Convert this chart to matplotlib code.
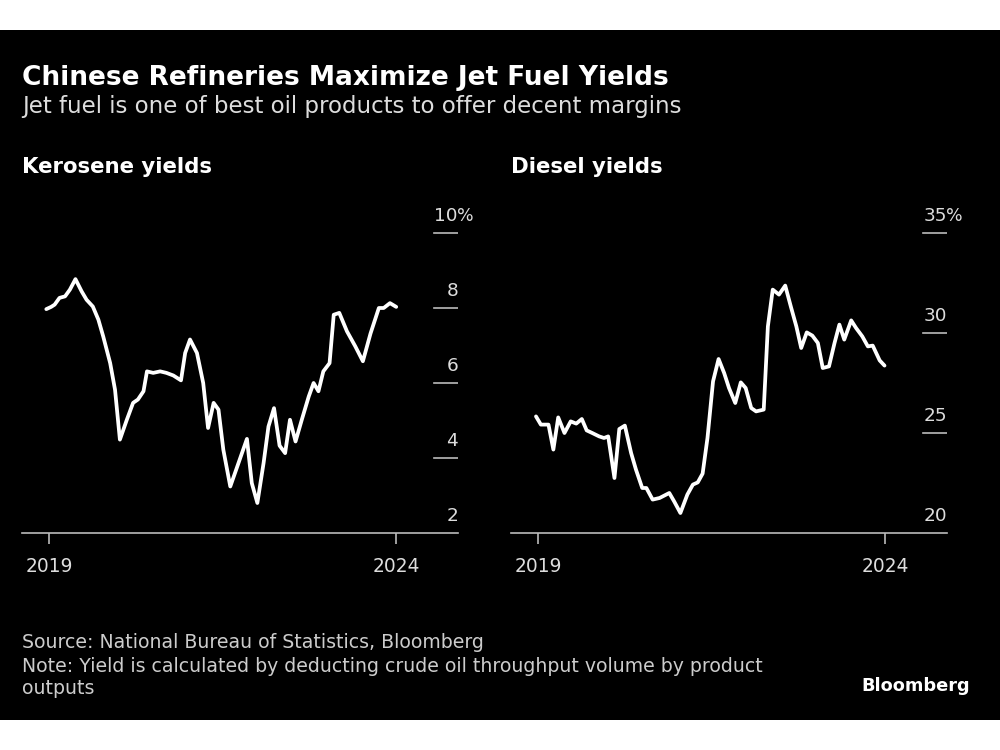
import matplotlib.pyplot as plt
import matplotlib.transforms as mtransforms
from matplotlib.patches import Rectangle

plt.rcParams['font.family'] = ['DejaVu Sans']

# dates as decimal years and yields (%)
ker_x = [2018.96, 2019.03, 2019.08, 2019.15, 2019.23, 2019.30, 2019.38, 2019.47, 2019.54, 2019.63,
         2019.71, 2019.78, 2019.88, 2019.95, 2020.02, 2020.12, 2020.21, 2020.28, 2020.36, 2020.41,
         2020.50, 2020.60, 2020.69, 2020.79, 2020.90, 2020.96, 2021.03, 2021.13, 2021.22, 2021.29,
         2021.37, 2021.44, 2021.51, 2021.61, 2021.85, 2021.92, 2022.00, 2022.09, 2022.16, 2022.24,
         2022.32, 2022.40, 2022.47, 2022.55, 2022.64, 2022.74, 2022.81, 2022.88, 2022.95, 2023.04,
         2023.10, 2023.18, 2023.29, 2023.41, 2023.52, 2023.63, 2023.75, 2023.82, 2023.91, 2024.00]
kerosene = [7.97, 8.03, 8.09, 8.27, 8.31, 8.49, 8.77, 8.44, 8.22, 8.04,
            7.69, 7.24, 6.53, 5.82, 4.49, 5.02, 5.47, 5.56, 5.78, 6.31,
            6.27, 6.31, 6.27, 6.2, 6.07, 6.8, 7.16, 6.8, 6.0, 4.8,
            5.47, 5.29, 4.22, 3.24, 4.51, 3.33, 2.8, 3.87, 4.84, 5.33,
            4.33, 4.13, 5.02, 4.44, 5.02, 5.64, 6.0, 5.78, 6.31, 6.53,
            7.82, 7.87, 7.38, 6.98, 6.58, 7.32, 8.0, 8.0, 8.13, 8.03]

dsl_x = [2018.97, 2019.04, 2019.09, 2019.15, 2019.22, 2019.29, 2019.38, 2019.47, 2019.55, 2019.63,
         2019.70, 2019.78, 2019.88, 2019.95, 2020.01, 2020.10, 2020.17, 2020.25, 2020.34, 2020.41,
         2020.50, 2020.56, 2020.65, 2020.75, 2020.89, 2020.96, 2021.05, 2021.15, 2021.23, 2021.30,
         2021.37, 2021.44, 2021.52, 2021.60, 2021.68, 2021.75, 2021.84, 2021.92, 2021.99, 2022.07,
         2022.14, 2022.25, 2022.31, 2022.38, 2022.47, 2022.56, 2022.64, 2022.72, 2022.79, 2022.87,
         2022.95, 2023.03, 2023.10, 2023.19, 2023.27, 2023.34, 2023.41, 2023.51, 2023.58, 2023.67,
         2023.75, 2023.82, 2023.92, 2023.99]
diesel = [25.83, 25.42, 25.42, 25.42, 24.17, 25.78, 25.0, 25.58, 25.47, 25.7,
          25.13, 25.0, 24.83, 24.75, 24.83, 22.75, 25.2, 25.37, 24.0, 23.17,
          22.25, 22.25, 21.67, 21.75, 22.0, 21.58, 21.0, 21.92, 22.42, 22.53,
          22.97, 24.75, 27.58, 28.7, 28.0, 27.25, 26.5, 27.53, 27.25, 26.25,
          26.08, 26.17, 30.33, 32.17, 31.92, 32.37, 31.33, 30.33, 29.25, 30.03,
          29.87, 29.5, 28.25, 28.33, 29.5, 30.42, 29.67, 30.63, 30.25, 29.83,
          29.33, 29.37, 28.63, 28.37]

# y labels; the first one sits on the x axis line, the rest get a short tick
ker_ticks = [2, 4, 6, 8, 10]
dsl_ticks = [20, 25, 30, 35]
year_ticks = [2019, 2024]
year_labels = ['2019', '2024']

fig = plt.figure(figsize=(10, 7.5), dpi=100)
fig.patch.set_facecolor('white')
fig.patches.append(Rectangle((0, 30 / 750), 1, 690 / 750, transform=fig.transFigure,
                             facecolor='black', edgecolor='none', zorder=-5))

fig.text(0.022, 1 - 78 / 750, 'Chinese Refineries Maximize Jet Fuel Yields',
         color='white', fontsize=19, fontweight='bold', va='center')
fig.text(0.022, 1 - 107 / 750, 'Jet fuel is one of best oil products to offer decent margins',
         color='#dddddd', fontsize=16.5, va='center')


def panel(left, xs, values, ticks, lo, hi, title):
    ax = fig.add_axes([left, 217 / 750, 0.436, 333 / 750])
    ax.set_zorder(2)
    ax.set_facecolor('none')
    ax.plot(xs, values, color='white', lw=2.7, solid_joinstyle='round',
            solid_capstyle='round', zorder=3, clip_on=False)
    ax.set_ylim(lo, hi)
    ax.set_xlim(2018.61, 2024.89)
    for s in ['top', 'left', 'right']:
        ax.spines[s].set_visible(False)
    ax.spines['bottom'].set_color('#bbbbbb')
    ax.spines['bottom'].set_linewidth(1.2)
    ax.set_yticks([])
    ax.set_xticks(year_ticks)
    ax.set_xticklabels(year_labels)
    ax.tick_params(axis='x', colors='#bbbbbb', length=8, width=1.2, pad=9,
                   labelsize=13.4, labelcolor='#dddddd')
    trans = mtransforms.blended_transform_factory(ax.transAxes, ax.transData)
    for i, v in enumerate(ticks):
        if i > 0:
            ax.plot([0.945, 1.0], [v, v], transform=trans, color='#bbbbbb', lw=1.2)
        ax.annotate(str(v), (1.0, v), xycoords=trans, xytext=(0, 6), textcoords='offset points',
                    ha='right', va='bottom', color='#dddddd', fontsize=13.3)
    ax.annotate('%', (1.0, ticks[-1]), xycoords=trans, xytext=(-0.5, 6), textcoords='offset points',
                ha='left', va='bottom', color='#dddddd', fontsize=12.5, annotation_clip=False)
    fig.text(left, 1 - 167 / 750, title, color='white', fontsize=15.3, fontweight='bold',
             va='center')
    return ax


ax1 = panel(0.022, ker_x, kerosene, ker_ticks, 2, 10.88, 'Kerosene yields')
ax2 = panel(0.511, dsl_x, diesel, dsl_ticks, 20, 36.65, 'Diesel yields')

fig.text(0.022, 1 - 643 / 750, 'Source: National Bureau of Statistics, Bloomberg',
         color='#cccccc', fontsize=13.6, va='center')
fig.text(0.022, 1 - 666 / 750, 'Note: Yield is calculated by deducting crude oil throughput volume by product',
         color='#cccccc', fontsize=13.6, va='center')
fig.text(0.022, 1 - 689 / 750, 'outputs', color='#cccccc', fontsize=13.6, va='center')
fig.text(0.970, 1 - 686 / 750, 'Bloomberg', color='white', fontsize=12.8, fontweight='bold',
         ha='right', va='center')

fig.savefig('out.png', dpi=100, facecolor=fig.get_facecolor())
